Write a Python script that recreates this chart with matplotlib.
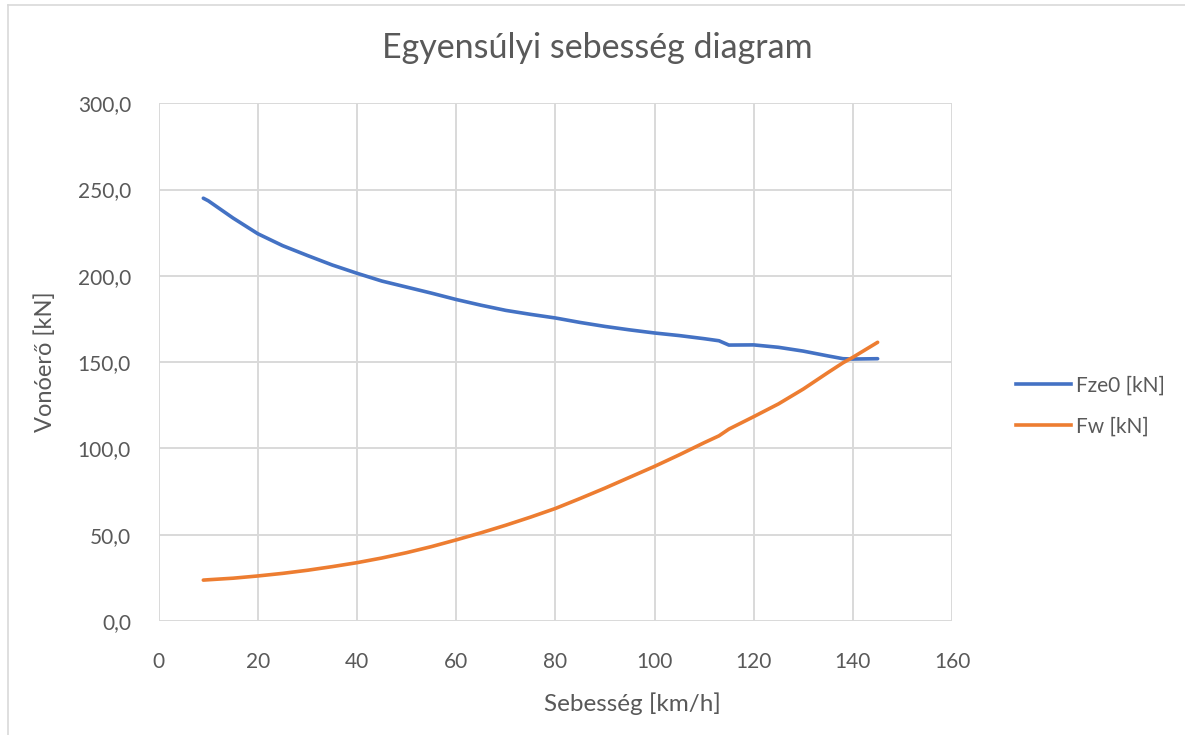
import matplotlib
matplotlib.use("Agg")
import matplotlib.pyplot as plt
from matplotlib.ticker import FuncFormatter, MultipleLocator
from matplotlib.lines import Line2D

# Data
speed = [9, 10, 15, 20, 25, 30, 35, 40, 45, 50, 55, 60, 65, 70, 75, 80, 85, 90,
         95, 100, 105, 110, 113, 115, 120, 125, 130, 135, 138, 140, 145]
fze0 = [245.0, 243.5, 233.5, 224.4, 217.5, 211.8, 206.3, 201.5, 197.0, 193.5,
        190.0, 186.3, 183.0, 180.0, 177.7, 175.6, 173.0, 170.7, 168.7, 166.9,
        165.4, 163.6, 162.4, 159.9, 160.0, 158.6, 156.4, 153.6, 152.0, 151.8, 152.0]
fw = [23.7, 23.9, 24.8, 26.1, 27.6, 29.4, 31.5, 33.8, 36.5, 39.6,
      43.1, 47.0, 51.1, 55.5, 60.2, 65.2, 71.0, 77.0, 83.3, 89.6,
      96.3, 103.3, 107.3, 111.2, 118.4, 125.8, 134.4, 144.0, 149.6, 152.8, 161.5]

series_names = ["Fze0 [kN]", "Fw [kN]"]
colors = ["#4472C4", "#ED7D31"]
title = "Egyensúlyi sebesség diagram"
xlabel = "Sebesség [km/h]"
ylabel = "Vonóerő [kN]"

plt.rcParams['font.family'] = ['Lato', 'DejaVu Sans']
text_color = "#595959"

fig = plt.figure(figsize=(11.85, 7.35), dpi=100)
W, H = 1185, 735
ax = fig.add_axes([158.7 / W, 1 - 621 / H, (952 - 158.7) / W, (621 - 103.3) / H])

ax.plot(speed, fze0, color=colors[0], lw=2.6, solid_capstyle='round', solid_joinstyle='round',
        label=series_names[0], zorder=3)
ax.plot(speed, fw, color=colors[1], lw=2.6, solid_capstyle='round', solid_joinstyle='round',
        label=series_names[1], zorder=3)

ax.set_xlim(0, 160)
ax.set_ylim(0, 300)
ax.xaxis.set_major_locator(MultipleLocator(20))
ax.yaxis.set_major_locator(MultipleLocator(50))
ax.yaxis.set_major_formatter(FuncFormatter(lambda v, p: f"{v:.1f}".replace('.', ',')))
ax.xaxis.set_major_formatter(FuncFormatter(lambda v, p: f"{int(v)}"))

for s in ax.spines.values():
    s.set_visible(False)
ax.grid(True, color="#D9D9D9", lw=1.4)
ax.set_axisbelow(True)
ax.tick_params(axis='both', length=0, labelsize=15, colors=text_color)
ax.tick_params(axis='y', pad=20)
ax.tick_params(axis='x', pad=22)

fig.text(597 / W, 1 - 48 / H, title, ha='center', va='center', fontsize=24.5, color=text_color)
fig.text(632 / W, 1 - 704 / H, xlabel, ha='center', va='center', fontsize=17.5, color=text_color)
fig.text(45 / W, 1 - 362 / H, ylabel, ha='center', va='center', fontsize=17, color=text_color, rotation=90)

handles = [Line2D([], [], color=c, lw=2.6) for c in colors]
fig.legend(handles, series_names, loc='center left', bbox_to_anchor=(1006 / W, 1 - 406 / H),
           frameon=False, fontsize=15, labelcolor=text_color, handlelength=2.6,
           handletextpad=0.25, labelspacing=1.0, borderpad=0)

# Chart-area border (left and top visible)
fig.add_artist(Line2D([7.5 / W, 7.5 / W], [0, 1 - 4.5 / H], color="#D9D9D9", lw=1.2))
fig.add_artist(Line2D([7.5 / W, 1], [1 - 4.5 / H, 1 - 4.5 / H], color="#D9D9D9", lw=1.2))

fig.savefig("out.png", dpi=100, facecolor='white')
